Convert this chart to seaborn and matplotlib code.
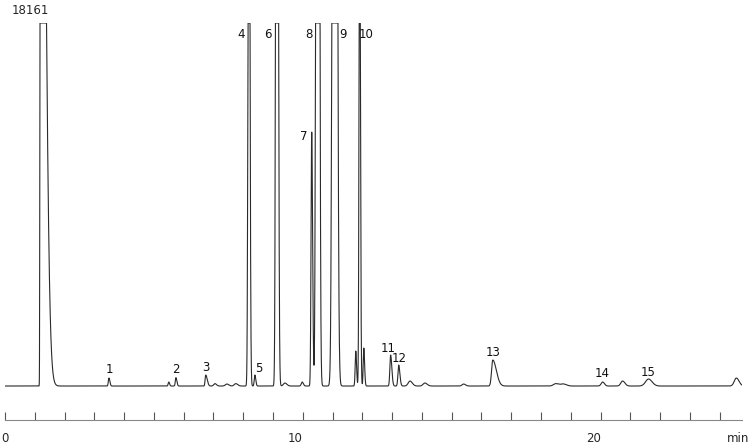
import numpy as np
import matplotlib
matplotlib.use("Agg")
import matplotlib.pyplot as plt
import seaborn as sns

# full scale of the detector window (counts shown top-left)
full_scale = 18161

# peaks: retention time (min), height, left/right width (min)
solvent = dict(time=1.185, height=52700, w_left=0.01, w_right=0.144)

peak_names = ["1", "2", "3", "4", "5", "6", "7", "8", "9", "10",
              "11", "12", "13", "14", "15"]
peak_times = [3.49, 5.74, 6.74, 8.19, 8.39, 9.13, 10.30, 10.50, 11.07, 11.91,
              12.95, 13.22, 16.38, 20.07, 21.61]
peak_heights = [400, 420, 550, 43000, 550, 84000, 12700, 145000, 145000, 27000,
                1550, 1050, 1300, 200, 350]
peak_wl = [0.02, 0.02, 0.02, 0.025, 0.02, 0.029, 0.022, 0.037, 0.049, 0.02,
           0.025, 0.025, 0.04, 0.05, 0.10]
peak_wr = [0.03, 0.03, 0.05, 0.03, 0.03, 0.035, 0.03, 0.04, 0.055, 0.025,
           0.04, 0.04, 0.12, 0.06, 0.12]

# small unlabelled peaks
minor_times = [5.50, 7.05, 7.45, 7.75, 9.40, 9.98, 11.78, 12.05, 13.6, 14.1,
               15.4, 18.5, 18.75, 20.74, 24.56]
minor_heights = [200, 120, 100, 120, 150, 200, 1750, 1900, 250, 150,
                 100, 120, 100, 250, 400]
minor_w = [0.02, 0.04, 0.05, 0.05, 0.05, 0.03, 0.02, 0.02, 0.06, 0.06,
           0.05, 0.08, 0.08, 0.06, 0.07]

# label offsets (pixels) relative to each peak top
label_dx = [0, 0, 0, -8, 4, -9, -8, -9, 8, 6, -2, 1, 0, 0, 0]
label_dy = [9, 8, 8, -11, 7, -11, -4, -11, -11, -11, 7, 7, 8, 9, 7]


def asym_gauss(t, c, h, wl, wr):
    w = np.where(t < c, wl, wr)
    return h * np.exp(-0.5 * ((t - c) / w) ** 2)


t = np.arange(0, 24.75, 0.002)
signal = asym_gauss(t, solvent["time"], solvent["height"], solvent["w_left"], solvent["w_right"])
for c, h, wl, wr in zip(peak_times, peak_heights, peak_wl, peak_wr):
    signal += asym_gauss(t, c, h, wl, wr)
for c, h, w in zip(minor_times, minor_heights, minor_w):
    signal += asym_gauss(t, c, h, w, w * 1.3)
signal = np.minimum(signal, full_scale)

sns.set_style("white")
plt.rcParams["font.family"] = ["DejaVu Sans"]

fig = plt.figure(figsize=(7.5, 4.45), dpi=100)
ax = fig.add_axes([5 / 750, 25 / 445, 737 / 750, 397 / 445])
sns.lineplot(x=t, y=signal, ax=ax, color="#2a2a2a", linewidth=0.8, estimator=None, sort=False)

ax.set_xlim(0, 24.75)
ax.set_ylim(-1700, full_scale)
for s in ["left", "right", "top"]:
    ax.spines[s].set_visible(False)
ax.spines["bottom"].set_color("#888888")
ax.spines["bottom"].set_linewidth(0.8)
ax.set_yticks([])
ax.set_xticks([0, 10, 20])
ax.set_xticks(np.arange(0, 25, 1), minor=True)
ax.tick_params(axis="x", which="both", bottom=True, direction="in", length=5.5, width=0.8,
               color="#555555", labelsize=8.5, pad=9)
labels = ax.get_xticklabels()
for lab in labels:
    lab.set_horizontalalignment("right")
labels[0].set_horizontalalignment("center")
ax.set_xlabel("")
ax.set_ylabel("")

px = 0.72  # pixels -> points at 100 dpi
for name, c, h, dx, dy in zip(peak_names, peak_times, peak_heights, label_dx, label_dy):
    top = min(h, full_scale)
    ax.annotate(name, xy=(c, top), xytext=(dx * px, dy * px), textcoords="offset points",
                ha="center", va="center", fontsize=8.5, color="#111111",
                annotation_clip=False)

fig.text(30 / 750, 1 - 10 / 445, str(full_scale), ha="center", va="center", fontsize=8.5)
fig.text(749 / 750, 1 - 438 / 445, "min", ha="right", va="center", fontsize=8.5)

fig.savefig("out.png", dpi=100)
